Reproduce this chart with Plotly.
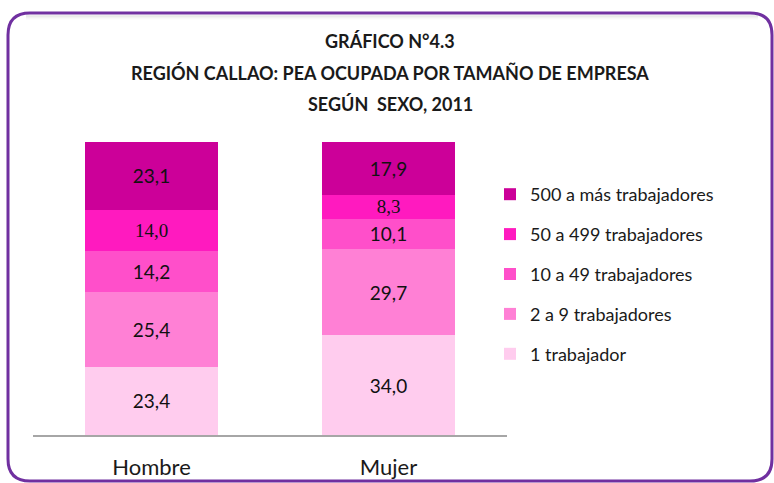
import plotly.graph_objects as go

categories = ["Hombre", "Mujer"]
series_names = ["1 trabajador", "2 a 9 trabajadores", "10 a 49 trabajadores",
                "50 a 499 trabajadores", "500 a más trabajadores"]
uno = [23.4, 34.0]
dos_nueve = [25.4, 29.7]
diez_49 = [14.2, 10.1]
cincuenta_499 = [14.0, 8.3]
quinientos = [23.1, 17.9]
series_values = [uno, dos_nueve, diez_49, cincuenta_499, quinientos]
colors = ["#FFCCEE", "#FF80D5", "#FF4FCA", "#FF1ABF", "#CC0099"]
label_fonts = ["Lato", "Lato", "Lato", "'Liberation Serif', 'DejaVu Serif', serif", "Lato"]

W, H = 774, 483
ML, MR, MT, MB = 33, 0, 142, 48
PW, PH = W - ML - MR, H - MT - MB
AXIS_RIGHT = 507  # right end of the category axis (pixels)

def px(x):
    return (x - ML) / PW

def py(y):
    return (H - MB - y) / PH

fig = go.Figure()
n = len(series_names)
for i, (name, vals, col, fam) in enumerate(zip(series_names, series_values, colors, label_fonts)):
    fig.add_trace(go.Bar(
        x=categories, y=vals, name=name, legendgroup=name,
        legendrank=n - i,
        marker=dict(color=col, line=dict(width=0)),
        texttemplate="%{y:.1f}", textposition="inside",
        insidetextanchor="middle", constraintext="none",
        textfont=dict(family=fam, size=19, color="#111111"),
        hoverinfo="skip",
    ))

# frame (decorative rounded border)
x0, x1, y0, y1, r = 8, 772, 13, 481, 22
path = (f"M {px(x0)} {py(y0 + r)} Q {px(x0)} {py(y0)} {px(x0 + r)} {py(y0)} "
        f"L {px(x1 - r)} {py(y0)} Q {px(x1)} {py(y0)} {px(x1)} {py(y0 + r)} "
        f"L {px(x1)} {py(y1 - r)} Q {px(x1)} {py(y1)} {px(x1 - r)} {py(y1)} "
        f"L {px(x0 + r)} {py(y1)} Q {px(x0)} {py(y1)} {px(x0)} {py(y1 - r)} Z")
shapes = [dict(type="path", xref="paper", yref="paper", path=path,
               line=dict(color="#7030A0", width=3), layer="above")]
for i, g in enumerate(["#d8d8d8", "#e6e6e6", "#f0f0f0", "#f7f7f7"]):
    yy = y0 + 3 + i
    shapes.append(dict(type="line", xref="paper", yref="paper",
                       x0=px(x0 + 18), x1=px(x1 - 14), y0=py(yy), y1=py(yy),
                       line=dict(color=g, width=1), layer="below"))

title_lines = ["GRÁFICO N°4.3",
               "REGIÓN CALLAO: PEA OCUPADA POR TAMAÑO DE EMPRESA",
               "SEGÚN  SEXO, 2011"]
title_y = [41, 73, 104]
annotations = []
for t, yy in zip(title_lines, title_y):
    annotations.append(dict(text=f"<b>{t}</b>", xref="paper", yref="paper",
                            x=px(390), y=py(yy), showarrow=False,
                            xanchor="center", yanchor="middle",
                            font=dict(family="Lato", size=18, color="#1a1a1a")))

fig.update_layout(
    width=W, height=H, autosize=False,
    margin=dict(l=ML, r=MR, t=MT, b=MB, pad=0),
    barmode="stack", bargap=0.435,
    separators=", ",
    paper_bgcolor="white", plot_bgcolor="white",
    showlegend=True,
    legend=dict(traceorder="grouped", tracegroupgap=13.5,
                xref="paper", yref="paper",
                x=px(490), y=py(176), xanchor="left", yanchor="top",
                font=dict(family="Lato", size=18, color="#1a1a1a"),
                itemwidth=30, bgcolor="rgba(0,0,0,0)"),
    xaxis=dict(domain=[0, px(AXIS_RIGHT)],
               showline=True, linecolor="#A6A6A6", linewidth=2,
               ticks="", tickfont=dict(family="Lato", size=22, color="#1a1a1a"),
               ticklabelstandoff=12, showgrid=False, fixedrange=True),
    yaxis=dict(range=[0, 100.1], visible=False, showgrid=False, fixedrange=True),
    shapes=shapes, annotations=annotations,
)

fig.write_html("out.html",
               config={"displayModeBar": False, "responsive": False},
               post_script="document.body.style.margin='0';"
                           "document.body.style.overflow='hidden';")
